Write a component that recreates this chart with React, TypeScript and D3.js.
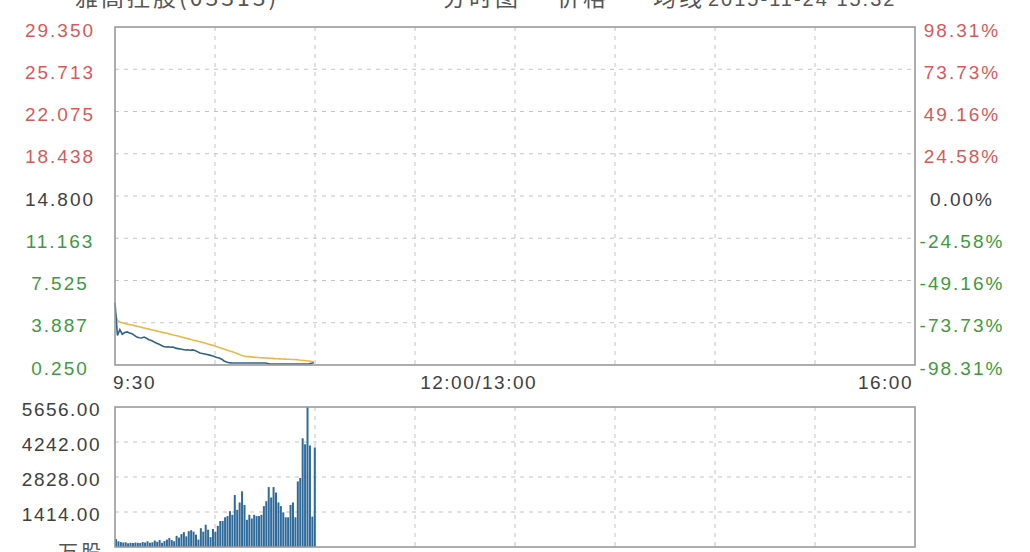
import React from "react";
import * as d3 from "d3";

const priceTicks = ["29.350", "25.713", "22.075", "18.438", "14.800", "11.163", "7.525", "3.887", "0.250"];
const pctTicks = ["98.31%", "73.73%", "49.16%", "24.58%", "0.00%", "-24.58%", "-49.16%", "-73.73%", "-98.31%"];
const volTicks = ["5656.00", "4242.00", "2828.00", "1414.00"];
const timeLabels = ["9:30", "12:00/13:00", "16:00"];
const timeLabelMinutes = [0, 150, 330];

const prices = [
  5.6, 2.8, 3.3, 2.9, 3.05, 3.1, 3.0, 2.95, 2.8, 2.65,
  2.6, 2.58, 2.66, 2.55, 2.42, 2.35, 2.25, 2.15, 2.05, 1.95,
  1.85, 1.8, 1.82, 1.78, 1.8, 1.7, 1.66, 1.62, 1.58, 1.54,
  1.56, 1.52, 1.55, 1.5, 1.4, 1.28, 1.24, 1.2, 1.15, 1.1,
  1.05, 0.98, 0.9, 0.85, 0.75, 0.6, 0.5, 0.45, 0.43, 0.42,
  0.42, 0.42, 0.42, 0.42, 0.42, 0.42, 0.42, 0.42, 0.42, 0.42,
  0.42, 0.42, 0.42, 0.38, 0.34, 0.34, 0.34, 0.34, 0.34, 0.34,
  0.34, 0.34, 0.34, 0.34, 0.34, 0.34, 0.34, 0.34, 0.34, 0.34,
  0.36, 0.4, 0.45,
];

const avgPrices = [
  4.75, 4.1, 3.95, 3.88, 3.82, 3.77, 3.73, 3.69, 3.64, 3.59,
  3.54, 3.49, 3.44, 3.39, 3.34, 3.29, 3.24, 3.19, 3.14, 3.09,
  3.04, 3.0, 2.95, 2.9, 2.84, 2.79, 2.74, 2.68, 2.63, 2.57,
  2.52, 2.47, 2.41, 2.36, 2.31, 2.26, 2.2, 2.14, 2.08, 2.02,
  1.96, 1.9, 1.83, 1.76, 1.69, 1.62, 1.55, 1.48, 1.42, 1.35,
  1.27, 1.18, 1.1, 1.02, 0.99, 0.97, 0.95, 0.93, 0.91, 0.89,
  0.87, 0.86, 0.85, 0.84, 0.83, 0.82, 0.8, 0.79, 0.78, 0.77,
  0.76, 0.75, 0.74, 0.73, 0.72, 0.71, 0.68, 0.66, 0.64, 0.62,
  0.6, 0.56, 0.53,
];

const volumes = [
  320, 230, 200, 180, 190, 150, 170, 160, 180, 170,
  160, 200, 180, 230, 170, 190, 260, 210, 280, 170,
  240, 300, 360, 280, 230, 450, 380, 520, 600, 430,
  640, 680, 620, 500, 300, 760, 620, 900, 700, 400,
  730, 620, 850, 1050, 1050, 1200, 1250, 1450, 1300, 2100,
  1500, 1800, 2250, 1700, 1100, 1300, 1150, 1300, 1250, 1250,
  1300, 1650, 1850, 2420, 2000, 2420, 2200, 1800, 1650, 1400,
  1200, 1200, 1700, 1800, 1200, 2650, 2790, 4390, 4150, 5656,
  4100, 1230, 4020,
];

const W = 1030;
const H = 552;
const L = 115;
const R = 915;
const T = 27;
const B = 365;
const VT = 407;
const VB = 547;
const FONT = "'Liberation Sans', Arial, sans-serif";
const CJK = "'Noto Sans CJK SC', sans-serif";
const RED = "#d65a5a";
const GREEN = "#3e9a3e";
const GRAY = "#404040";

export default function App() {
  const x = d3.scaleLinear().domain([0, 330]).range([L, R]);
  const y = d3.scaleLinear().domain([0.25, 29.35]).range([B, T]);
  const yv = d3.scaleLinear().domain([0, 5656]).range([VB, VT]);
  const pct = d3.scaleLinear().domain([-98.31, 98.31]).range([B, T]);

  const line = d3
    .line<number>()
    .x((_, i) => x(i))
    .y((d) => y(d));

  const vGrid = d3.range(1, 8).map((k) => (k * 330) / 8);
  const priceVals = priceTicks.map((t) => parseFloat(t));
  const volVals = volTicks.map((t) => parseFloat(t));

  const colorFor = (i: number) => (i < 4 ? RED : i === 4 ? GRAY : GREEN);

  return (
    <svg width={W} height={H} style={{ position: "absolute", left: 0, top: 0 }} fontFamily={FONT}>
      <rect x={0} y={0} width={W} height={H} fill="#fff" />
      {/* title (mostly cut off at the top) */}
      <text x={75} y={6} fontSize={23} fill="#555" letterSpacing={3} fontFamily={CJK}>
        雅高控股(03313)
      </text>
      <text x={443} y={6} fontSize={23} fill="#555" letterSpacing={3} fontFamily={CJK}>
        分时图
      </text>
      <line x1={515} x2={545} y1={-4} y2={-4} stroke="#2c5f8c" strokeWidth={2} />
      <text x={557} y={6} fontSize={23} fill="#555" letterSpacing={3} fontFamily={CJK}>
        价格
      </text>
      <line x1={612} x2={642} y1={-4} y2={-4} stroke="#f0b43c" strokeWidth={2} />
      <text x={653} y={6} fontSize={23} fill="#555" letterSpacing={3} fontFamily={CJK}>
        均线
      </text>
      <text x={708} y={6} fontSize={20} fill="#555" letterSpacing={2}>
        2015-11-24 15:32
      </text>

      {/* main grid */}
      {priceVals.slice(1, -1).map((v, i) => (
        <line key={"hg" + i} x1={L} x2={R} y1={y(v)} y2={y(v)} stroke="#c4c4c4" strokeDasharray="4,5" />
      ))}
      {vGrid.map((m, i) => (
        <line key={"vg" + i} x1={x(m)} x2={x(m)} y1={T} y2={B} stroke="#c4c4c4" strokeDasharray="4,5" />
      ))}

      {/* lines */}
      <path d={line(avgPrices) || ""} fill="none" stroke="#ecb84a" strokeWidth={1.6} />
      <path d={line(prices) || ""} fill="none" stroke="#30628e" strokeWidth={1.6} />

      <rect x={L} y={T} width={R - L} height={B - T} fill="none" stroke="#999" strokeWidth={1.6} />

      {/* left labels */}
      {priceTicks.map((t, i) => (
        <text key={"pl" + i} x={60} y={y(priceVals[i]) + 3} fontSize={19} letterSpacing={2} textAnchor="middle" dominantBaseline="central" fill={colorFor(i)}>
          {t}
        </text>
      ))}
      {/* right labels */}
      {pctTicks.map((t, i) => (
        <text key={"pr" + i} x={962} y={pct(parseFloat(t)) + 3} fontSize={19} letterSpacing={2} textAnchor="middle" dominantBaseline="central" fill={colorFor(i)}>
          {t}
        </text>
      ))}
      {/* time labels */}
      {timeLabels.map((t, i) => (
        <text
          key={"tl" + i}
          x={x(timeLabelMinutes[i]) + (i === 0 ? -2 : i === 2 ? -2 : 0)}
          y={389}
          fontSize={19}
          letterSpacing={1.5}
          textAnchor={i === 0 ? "start" : i === 1 ? "middle" : "end"}
          fill={GRAY}
        >
          {t}
        </text>
      ))}

      {/* volume chart */}
      {volVals.slice(1).map((v, i) => (
        <line key={"vhg" + i} x1={L} x2={R} y1={yv(v)} y2={yv(v)} stroke="#c4c4c4" strokeDasharray="4,5" />
      ))}
      {vGrid.map((m, i) => (
        <line key={"vvg" + i} x1={x(m)} x2={x(m)} y1={VT} y2={VB} stroke="#c4c4c4" strokeDasharray="4,5" />
      ))}
      {volumes.map((v, i) => (
        <rect key={"vb" + i} x={x(i)} y={yv(v)} width={2} height={VB - yv(v)} fill="#2f6a9a" />
      ))}
      <rect x={L} y={VT} width={R - L} height={VB - VT} fill="none" stroke="#999" strokeWidth={1.6} />
      {volTicks.map((t, i) => (
        <text key={"vl" + i} x={101} y={yv(volVals[i]) + 2} fontSize={19} letterSpacing={1.5} textAnchor="end" dominantBaseline="central" fill={GRAY}>
          {t}
        </text>
      ))}
      <text x={58} y={560} fontSize={20} letterSpacing={3} fill="#555" fontFamily={CJK}>
        万股
      </text>
    </svg>
  );
}
